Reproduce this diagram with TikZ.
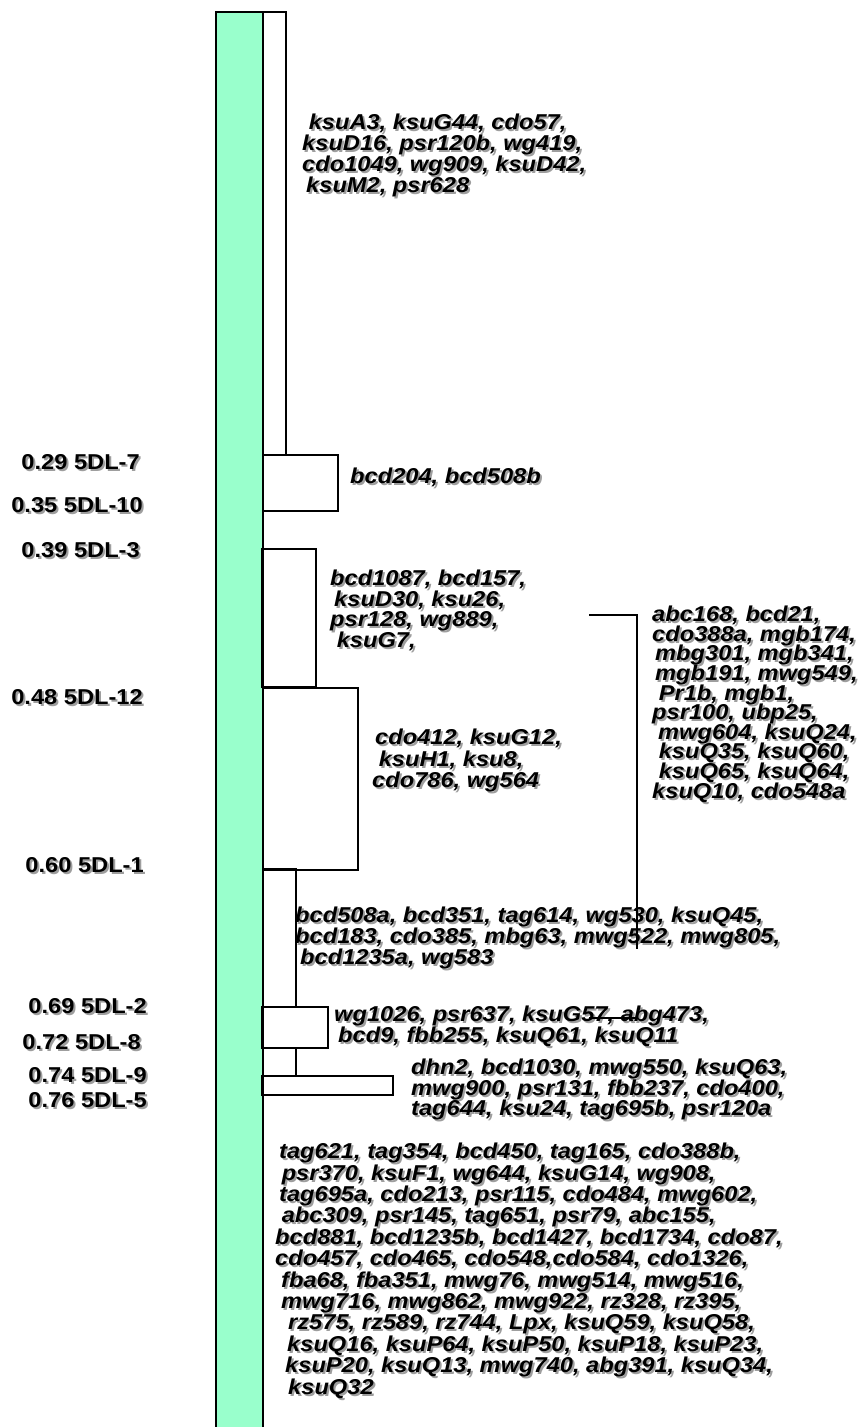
\documentclass[tikz,border=0pt]{standalone}
\usepackage{fontspec}
\setmainfont{Liberation Sans}[FakeStretch=1.1]
\usepackage{tikz}
\definecolor{chrom}{RGB}{153,255,204}
\tikzstyle{locus}=[font={\bfseries\fontsize{21.5}{21.5}\selectfont}, inner sep=0pt, anchor=east]
\tikzset{spacing/.style={font={\bfseries\itshape\fontsize{21.5}{#1}\selectfont\lineskiplimit=-50pt}}}
\tikzstyle{markers}=[spacing=21, inner sep=0pt, anchor=north west, align=left]
\tikzstyle{shade}=[text=black!38]
\tikzstyle{bracket}=[line width=2pt]
\newcommand{\shnode}[4]{%
  \node[#1, shade] (#2s) at ([shift={(2,2)}]#3) {#4};
  \node[#1] (#2) at (#3) {#4};}

\begin{document}
\begin{tikzpicture}[x=1pt,y=-1pt]
	\useasboundingbox (0,0) rectangle (865,1427);
	%% the chromosome
	\fill[chrom] (216,12) rectangle (263,1432);
	\draw[line width=2.5pt] (216,1432) -- (216,12) -- (263,12) -- (263,1432);
	%% deletion breakpoints
	\shnode{locus}{d7}{140,462}{0.29 5DL-7}
	\shnode{locus}{d10}{143,505}{0.35 5DL-10}
	\shnode{locus}{d3}{140,550}{0.39 5DL-3}
	\shnode{locus}{d12}{143,697}{0.48 5DL-12}
	\shnode{locus}{d1}{144,865}{0.60 5DL-1}
	\shnode{locus}{d2}{147,1006}{0.69 5DL-2}
	\shnode{locus}{d8}{141,1042}{0.72 5DL-8}
	\shnode{locus}{d9}{147,1075}{0.74 5DL-9}
	\shnode{locus}{d5}{147,1100}{0.76 5DL-5}
	%% markers in each bin
	\shnode{markers}{binA}{302,114}{\ ksuA3, ksuG44, cdo57,\\ksuD16, psr120b, wg419,\\cdo1049, wg909, ksuD42,\\\hspace{4pt}ksuM2, psr628}
	\shnode{markers}{binB}{350,468}{bcd204, bcd508b}
	\shnode{markers, spacing=20.5}{binC}{330,570}{bcd1087, bcd157,\\\hspace{4pt}ksuD30, ksu26,\\psr128, wg889,\\\ ksuG7,}
	\shnode{markers, spacing=21.5}{binD}{372,729}{\hspace{3pt}cdo412, ksuG12,\\\ ksuH1, ksu8,\\cdo786, wg564}
	\shnode{markers, spacing=19.6}{binE}{652,606}{abc168, bcd21,\\cdo388a, mgb174,\\\hspace{3pt}mbg301, mgb341,\\\hspace{3pt}mgb191, mwg549,\\\ Pr1b, mgb1,\\psr100, ubp25,\\\hspace{6pt}mwg604, ksuQ24,\\\ ksuQ35, ksuQ60,\\\ ksuQ65, ksuQ64,\\ksuQ10, cdo548a}
	\shnode{markers}{binF}{295,907}{bcd508a, bcd351, tag614, wg530, ksuQ45,\\bcd183, cdo385, mbg63, mwg522, mwg805,\\\hspace{5pt}bcd1235a, wg583}
	\shnode{markers}{binG}{334,1006}{wg1026, psr637, ksuG57, abg473,\\\hspace{4pt}bcd9, fbb255, ksuQ61, ksuQ11}
	\shnode{markers, spacing=20.5}{binH}{411,1059}{dhn2, bcd1030, mwg550, ksuQ63,\\mwg900, psr131, fbb237, cdo400,\\tag644, ksu24, tag695b, psr120a}
	\shnode{markers, spacing=21.4}{binI}{275,1143}{\hspace{4pt}tag621, tag354, bcd450, tag165, cdo388b,\\\ psr370, ksuF1, wg644, ksuG14, wg908,\\\hspace{4pt}tag695a, cdo213, psr115, cdo484, mwg602,\\\ abc309, psr145, tag651, psr79, abc155,\\bcd881, bcd1235b, bcd1427, bcd1734, cdo87,\\cdo457, cdo465, cdo548,cdo584, cdo1326,\\\hspace{6pt}fba68, fba351, mwg76, mwg514, mwg516,\\\hspace{6pt}mwg716, mwg862, mwg922, rz328, rz395,\\\hspace{13pt}rz575, rz589, rz744, Lpx, ksuQ59, ksuQ58,\\\hspace{12pt}ksuQ16, ksuP64, ksuP50, ksuP18, ksuP23,\\\hspace{10pt}ksuP20, ksuQ13, mwg740, abg391, ksuQ34,\\\hspace{13pt}ksuQ32}
	%% the bins
	\draw[bracket] (263,12) -- (286,12) -- (286,455);
	\draw[bracket] (263,455) -- (338,455) -- (338,511) -- (263,511);
	\draw[bracket] (262,549) -- (316,549) -- (316,687) -- (262,687) -- cycle;
	\draw[bracket] (262,688) -- (358,688) -- (358,870) -- (262,870);
	\draw[bracket] (262,869) -- (296,869) -- (296,1007);
	\draw[bracket] (262,1007) -- (328,1007) -- (328,1048) -- (262,1048) -- cycle;
	\draw[bracket] (296,1048) -- (296,1075);
	\draw[bracket] (262,1076) -- (393,1076) -- (393,1095) -- (262,1095) -- cycle;
	\draw[bracket] (589,615) -- (637,615) -- (637,949);
	\draw[bracket] (589,1018) -- (637,1018);
\end{tikzpicture}
\end{document}
